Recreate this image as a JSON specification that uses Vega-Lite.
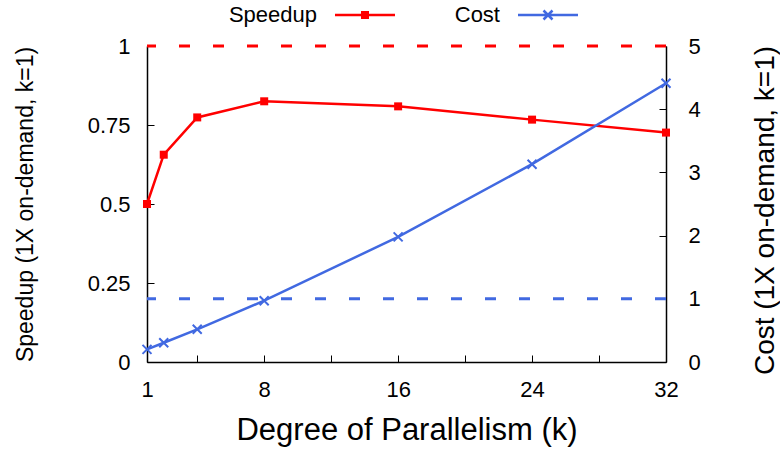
{
  "$schema": "https://vega.github.io/schema/vega-lite/v6.json",
  "width": 519,
  "height": 316,
  "autosize": {"type": "none"},
  "padding": {"left": 147, "top": 46, "right": 114, "bottom": 88},
  "background": "white",
  "config": {
    "view": {"stroke": null},
    "font": "Liberation Sans",
    "axis": {
      "grid": false,
      "domainColor": "black",
      "domainWidth": 1.5,
      "tickColor": "black",
      "tickWidth": 1,
      "tickSize": -7,
      "labelColor": "black",
      "titleColor": "black",
      "labelFont": "Liberation Sans",
      "titleFont": "Liberation Sans",
      "labelFontSize": 22,
      "titleFontWeight": "normal",
      "labelFlush": false,
      "labelOverlap": false,
      "labelBound": false
    }
  },
  "datasets": {
    "speedup": [
      {"k": 1, "series": "Speedup", "value": 0.5},
      {"k": 2, "series": "Speedup", "value": 0.656},
      {"k": 4, "series": "Speedup", "value": 0.774},
      {"k": 8, "series": "Speedup", "value": 0.825},
      {"k": 16, "series": "Speedup", "value": 0.809},
      {"k": 24, "series": "Speedup", "value": 0.767},
      {"k": 32, "series": "Speedup", "value": 0.726}
    ],
    "cost": [
      {"k": 1, "series": "Cost", "value": 0.2},
      {"k": 2, "series": "Cost", "value": 0.305},
      {"k": 4, "series": "Cost", "value": 0.517},
      {"k": 8, "series": "Cost", "value": 0.97},
      {"k": 16, "series": "Cost", "value": 1.98},
      {"k": 24, "series": "Cost", "value": 3.13},
      {"k": 32, "series": "Cost", "value": 4.41}
    ],
    "ref": [{"value": 1}]
  },
  "layer": [
    {
      "layer": [
        {
          "data": {"name": "ref"},
          "mark": {"type": "rule", "color": "#ff0000", "strokeWidth": 3, "strokeDash": [11, 23]},
          "encoding": {
            "y": {"field": "value", "type": "quantitative", "scale": {"domain": [0, 1], "nice": false, "zero": false}}
          }
        },
        {
          "data": {"name": "speedup"},
          "mark": {"type": "line", "strokeWidth": 2.5},
          "encoding": {
            "x": {
              "field": "k", "type": "quantitative",
              "scale": {"domain": [1, 32], "nice": false, "zero": false},
              "axis": {
                "title": "Degree of Parallelism (k)",
                "values": [1, 4, 8, 12, 16, 20, 24, 28, 32],
                "format": "d",
                "labelExpr": "datum.value == 1 || datum.value % 8 == 0 ? datum.label : ''",
                "labelPadding": 24.6,
                "titleFontSize": 31,
                "titleY": 77,
                "titleBaseline": "alphabetic"
              }
            },
            "y": {
              "field": "value", "type": "quantitative",
              "scale": {"domain": [0, 1], "nice": false, "zero": false},
              "axis": {
                "title": "Speedup (1X on-demand, k=1)",
                "values": [0, 0.25, 0.5, 0.75, 1],
                "format": ".2~f",
                "labelPadding": 24,
                "titleFontSize": 23,
                "titleAngle": -90,
                "titleBaseline": "middle",
                "titleX": -122,
                "titleY": 158
              }
            },
            "color": {
              "field": "series", "type": "nominal",
              "scale": {"domain": ["Speedup", "Cost"], "range": ["#ff0000", "#4169e1"]},
              "legend": {
                "orient": "none",
                "legendX": 207,
                "legendY": -42,
                "direction": "horizontal",
                "title": null,
                "padding": 0,
                "labelFontSize": 22,
                "labelFont": "Liberation Sans",
                "labelColor": "black",
                "labelAlign": "right",
                "labelOffset": -59,
                "symbolSize": 100,
                "columnPadding": 54,
                "encode": {
                  "symbols": {
                    "update": {
                      "shape": {"signal": "datum.value === 'Speedup' ? 'M-6,0H6M-0.55,-0.55H0.55V0.55H-0.55Z' : 'M-6,0H6M-0.9,-0.9L0.9,0.9M-0.9,0.9L0.9,-0.9'"},
                      "fill": {"signal": "datum.value === 'Speedup' ? '#ff0000' : 'transparent'"},
                      "stroke": {"signal": "datum.value === 'Speedup' ? '#ff0000' : '#4169e1'"},
                      "strokeWidth": {"value": 2.5},
                      "opacity": {"value": 1}
                    }
                  }
                }
              }
            }
          }
        },
        {
          "data": {"name": "speedup"},
          "mark": {"type": "point", "shape": "square", "filled": true, "size": 64, "opacity": 1},
          "encoding": {
            "x": {"field": "k", "type": "quantitative"},
            "y": {"field": "value", "type": "quantitative"},
            "color": {"field": "series", "type": "nominal"}
          }
        }
      ]
    },
    {
      "layer": [
        {
          "data": {"name": "ref"},
          "mark": {"type": "rule", "color": "#4169e1", "strokeWidth": 3, "strokeDash": [11, 23]},
          "encoding": {
            "y": {"field": "value", "type": "quantitative", "scale": {"domain": [0, 5], "nice": false, "zero": false}}
          }
        },
        {
          "data": {"name": "cost"},
          "mark": {"type": "line", "strokeWidth": 2.5},
          "encoding": {
            "x": {"field": "k", "type": "quantitative"},
            "y": {
              "field": "value", "type": "quantitative",
              "scale": {"domain": [0, 5], "nice": false, "zero": false},
              "axis": {
                "orient": "right",
                "title": "Cost (1X on-demand, k=1)",
                "values": [0, 1, 2, 3, 4, 5],
                "format": "d",
                "labelPadding": 29,
                "titleFontSize": 28,
                "titleAngle": -90,
                "titleBaseline": "middle",
                "titleX": 99,
                "titleY": 164
              }
            },
            "color": {"field": "series", "type": "nominal"}
          }
        },
        {
          "data": {"name": "cost"},
          "mark": {"type": "point", "shape": "M-1,-1L1,1M-1,1L1,-1", "filled": false, "size": 81, "strokeWidth": 2, "opacity": 1},
          "encoding": {
            "x": {"field": "k", "type": "quantitative"},
            "y": {"field": "value", "type": "quantitative"},
            "color": {"field": "series", "type": "nominal"}
          }
        }
      ]
    }
  ],
  "resolve": {"scale": {"y": "independent"}}
}
